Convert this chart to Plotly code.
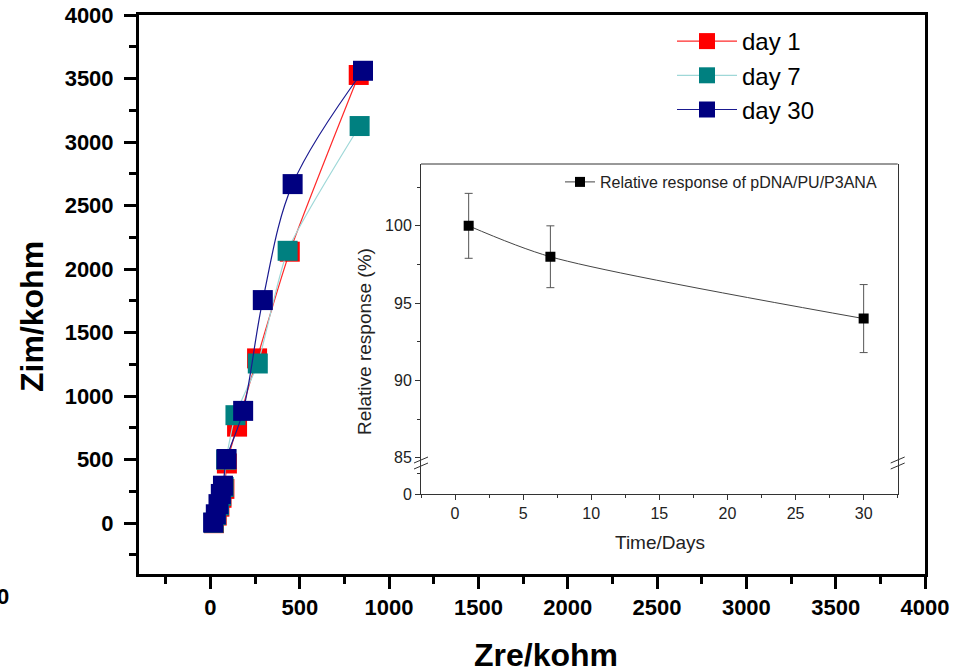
import plotly.graph_objects as go

# ---- Main Nyquist data (Zre, Zim in kohm) ----
day1_zre = [20, 35, 50, 62, 78, 92, 149, 261, 444, 830]
day1_zim = [0, 60, 130, 200, 270, 470, 760, 1297, 2137, 3528]

day7_zre = [18, 32, 48, 60, 74, 88, 140, 265, 432, 835]
day7_zim = [3, 65, 140, 215, 285, 500, 850, 1257, 2144, 3126]

day30_zre = [15, 30, 45, 58, 70, 90, 183, 293, 460, 854]
day30_zim = [5, 70, 150, 230, 295, 505, 884, 1756, 2669, 3561]

# ---- Inset data ----
days = [1, 7, 30]
resp = [100, 98, 94]
resp_err = [2.1, 2.0, 2.2]

FONT = "Arial, Liberation Sans, sans-serif"

def px_x(p):
    return (p - 139) / 786.0

def px_y(p):
    return (574 - p) / 559.0

fig = go.Figure()

series = [
    ("day 1", day1_zre, day1_zim, "#ff0000", "#ff2a2a", 0.6),
    ("day 7", day7_zre, day7_zim, "#008080", "#9fd8d8", 0.6),
    ("day 30", day30_zre, day30_zim, "#000080", "#1a1a90", 1.0),
]
for name, xs, ys, mcol, lcol, sm in series:
    fig.add_trace(go.Scatter(
        x=xs, y=ys, name=name, mode="lines+markers",
        line=dict(color=lcol, width=1.2, shape="spline", smoothing=sm),
        marker=dict(symbol="square", size=20, color=mcol, line=dict(width=0)),
        legend="legend",
    ))

fig.add_trace(go.Scatter(
    x=days, y=resp, name="Relative response of pDNA/PU/P3ANA",
    mode="lines+markers", xaxis="x2", yaxis="y2",
    line=dict(color="#444444", width=1, shape="spline", smoothing=0.8),
    marker=dict(symbol="square", size=10, color="black"),
    error_y=dict(type="data", array=resp_err, color="#555555", thickness=1, width=4),
    legend="legend2",
))
# empty trace so the lower (broken) inset y-axis segment exists
fig.add_trace(go.Scatter(
    x=days, y=[None] * len(days), xaxis="x2", yaxis="y3",
    mode="markers", showlegend=False, hoverinfo="skip",
))

inset_x = [px_x(421), px_x(897.7)]
inset_y_up = [px_y(457.7), px_y(164)]
inset_y_lo = [px_y(494), px_y(457.7)]
axcol = "#333333"

fig.update_layout(
    width=969, height=672, autosize=False,
    margin=dict(l=139, r=44, t=15, b=98, autoexpand=False),
    paper_bgcolor="white", plot_bgcolor="white",
    font=dict(family=FONT, color="black"),
    xaxis=dict(
        domain=[0, 1], range=[-400, 4000], tick0=0, dtick=500, automargin=False,
        ticks="outside", ticklen=12, tickwidth=3, tickcolor="black",
        showline=True, linewidth=3, linecolor="black", mirror=True,
        showgrid=False, zeroline=False,
        tickfont=dict(size=22, family=FONT, weight="bold", color="black"),
        minor=dict(tick0=0, dtick=250, ticks="outside", ticklen=7, tickwidth=3, tickcolor="black"),
    ),
    yaxis=dict(
        domain=[0, 1], range=[-400, 4000], tick0=0, dtick=500, automargin=False,
        ticks="outside", ticklen=12, tickwidth=3, tickcolor="black",
        showline=True, linewidth=3, linecolor="black", mirror=True,
        showgrid=False, zeroline=False, ticklabelstandoff=6,
        tickfont=dict(size=22, family=FONT, weight="bold", color="black"),
        minor=dict(tick0=0, dtick=250, ticks="outside", ticklen=7, tickwidth=3, tickcolor="black"),
    ),
    xaxis2=dict(
        domain=inset_x, anchor="y3", range=[-2.5, 32.5], tick0=0, dtick=5, automargin=False,
        ticks="outside", ticklen=5, tickwidth=1, tickcolor=axcol,
        showline=True, linewidth=1, linecolor=axcol,
        showgrid=False, zeroline=False,
        tickfont=dict(size=16, family=FONT, color="#222222"),
        minor=dict(tick0=-2.5, dtick=2.5, ticks="outside", ticklen=3, tickwidth=1, tickcolor=axcol),
    ),
    yaxis2=dict(
        domain=inset_y_up, anchor="x2", range=[85, 104], automargin=False,
        tickvals=[85, 90, 95, 100],
        ticks="outside", ticklen=5, tickwidth=1, tickcolor=axcol,
        showline=True, linewidth=1, linecolor=axcol, mirror=True,
        showgrid=False, zeroline=False,
        tickfont=dict(size=16, family=FONT, color="#222222"),
        minor=dict(tickvals=[87.5, 92.5, 97.5, 102.5], ticks="outside", ticklen=3, tickwidth=1, tickcolor=axcol),
    ),
    yaxis3=dict(
        domain=inset_y_lo, anchor="x2", range=[0, 3.5], automargin=False,
        tickvals=[0],
        ticks="outside", ticklen=5, tickwidth=1, tickcolor=axcol,
        showline=True, linewidth=1, linecolor=axcol, mirror=True,
        showgrid=False, zeroline=False,
        tickfont=dict(size=16, family=FONT, color="#222222"),
        minor=dict(tickvals=[2], ticks="outside", ticklen=3, tickwidth=1, tickcolor=axcol),
    ),
    legend=dict(
        x=px_x(672), y=px_y(19), xanchor="left", yanchor="top",
        bgcolor="rgba(0,0,0,0)", borderwidth=0,
        font=dict(size=24, family=FONT, color="black"),
        itemwidth=60, tracegroupgap=0,
    ),
    legend2=dict(
        x=px_x(560), y=px_y(165), xanchor="left", yanchor="top",
        bgcolor="rgba(0,0,0,0)", borderwidth=0,
        font=dict(size=16, family=FONT, color="#222222"),
    ),
    showlegend=True,
)

shapes = []
# inset top border
shapes.append(dict(type="line", xref="paper", yref="paper",
                   x0=inset_x[0], x1=inset_x[1], y0=inset_y_up[1], y1=inset_y_up[1],
                   line=dict(color=axcol, width=1)))
# axis-break marks on both inset sides
for cx in (421, 897.7):
    for dy in (0, 6):
        shapes.append(dict(type="line", xref="paper", yref="paper",
                           x0=px_x(cx - 7), x1=px_x(cx + 7),
                           y0=px_y(463 + dy), y1=px_y(457 + dy),
                           line=dict(color=axcol, width=1)))
fig.update_layout(shapes=shapes)

annotations = [
    dict(text="Zre/kohm", xref="paper", yref="paper", x=px_x(546), y=px_y(655),
         showarrow=False, xanchor="center", yanchor="middle",
         font=dict(size=32, family=FONT, weight="bold", color="black")),
    dict(text="Zim/kohm", xref="paper", yref="paper", x=px_x(32), y=px_y(317),
         showarrow=False, xanchor="center", yanchor="middle", textangle=-90,
         font=dict(size=32, family=FONT, weight="bold", color="black")),
    dict(text="Time/Days", xref="paper", yref="paper", x=px_x(660), y=px_y(542),
         showarrow=False, xanchor="center", yanchor="middle",
         font=dict(size=19, family=FONT, color="#222222")),
    dict(text="Relative response (%)", xref="paper", yref="paper", x=px_x(365), y=px_y(342),
         showarrow=False, xanchor="center", yanchor="middle", textangle=-90,
         font=dict(size=19, family=FONT, color="#222222")),
    dict(text="0", xref="paper", yref="paper", x=px_x(11), y=px_y(596),
         showarrow=False, xanchor="right", yanchor="middle",
         font=dict(size=22, family=FONT, weight="bold", color="black")),
]
fig.update_layout(annotations=annotations)

fig.write_html("out.html")
